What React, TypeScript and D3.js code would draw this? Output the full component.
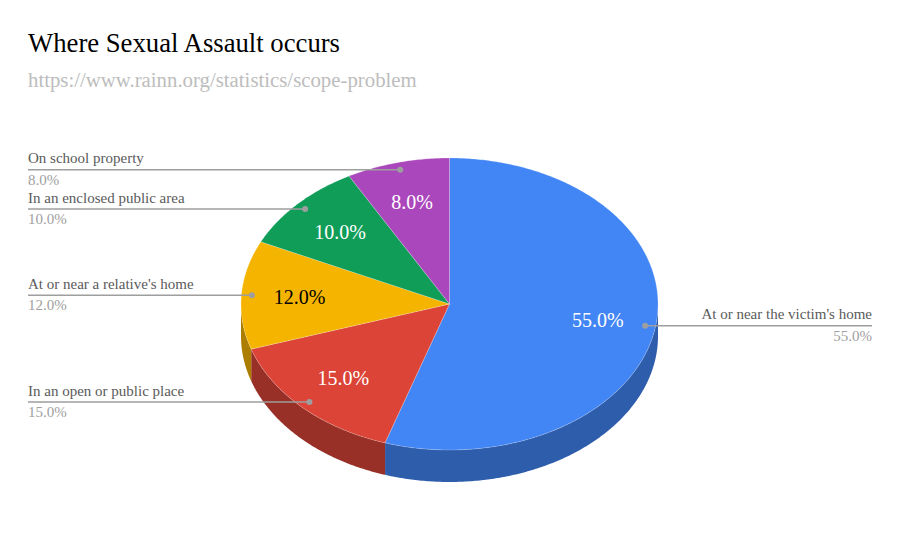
import React from "react";
import * as d3 from "d3";

const title = "Where Sexual Assault occurs";
const subtitle = "https://www.rainn.org/statistics/scope-problem";
const categories = [
  "At or near the victim's home",
  "In an open or public place",
  "At or near a relative's home",
  "In an enclosed public area",
  "On school property",
];
const values = [55, 15, 12, 10, 8];
const colors = ["#4285f4", "#db4437", "#f4b400", "#0f9d58", "#ab47bc"];

const W = 900;
const H = 557;
const CX = 449.5;
const CY = 304;
const RX = 208.5;
const RY = 146;
const DEPTH = 32;
const FONT = "'Liberation Serif', 'Times New Roman', serif";

const px = (a: number, k = 1) => CX + RX * k * Math.sin(a);
const py = (a: number, k = 1) => CY - RY * k * Math.cos(a);

function samples(a0: number, a1: number) {
  const n = Math.max(2, Math.ceil(Math.abs(a1 - a0) / 0.01));
  return d3.range(n + 1).map((i) => a0 + ((a1 - a0) * i) / n);
}

export default function App() {
  const total = d3.sum(values);
  const pie = d3
    .pie<number>()
    .sort(null)
    .startAngle(0)
    .endAngle(2 * Math.PI)(values);
  const fmt = (v: number) => d3.format(".1f")((v / total) * 100) + "%";

  const line = d3.line<[number, number]>();

  const frontStart = Math.PI / 2;
  const frontEnd = (3 * Math.PI) / 2;

  const sides = pie
    .map((d, i) => {
      const a0 = Math.max(d.startAngle, frontStart);
      const a1 = Math.min(d.endAngle, frontEnd);
      if (a1 <= a0) return null;
      const top = samples(a0, a1).map((a) => [px(a), py(a)] as [number, number]);
      const bot = samples(a1, a0).map((a) => [px(a), py(a) + DEPTH] as [number, number]);
      return { i, d: line([...top, ...bot]) + "Z" };
    })
    .filter(Boolean) as { i: number; d: string }[];

  const tops = pie.map((d, i) => {
    const pts = [[CX, CY] as [number, number], ...samples(d.startAngle, d.endAngle).map((a) => [px(a), py(a)] as [number, number])];
    return { i, d: line(pts) + "Z" };
  });

  return (
    <svg
      width={W}
      height={H}
      style={{ position: "absolute", left: 0, top: 0, background: "#fff" }}
      fontFamily={FONT}
    >
      <rect width={W} height={H} fill="#fff" />
      <text x={28} y={52} fontSize={26.7} fill="#000">{title}</text>
      <text x={28} y={87} fontSize={20.8} fill="#bdbdbd">{subtitle}</text>

      {sides.map((s) => (
        <path key={"s" + s.i} d={s.d} fill={d3.color(colors[s.i])!.darker(1).formatHex()} />
      ))}
      {tops.map((t) => (
        <path key={"t" + t.i} d={t.d} fill={colors[t.i]} stroke="#fff" strokeOpacity={0.35} strokeWidth={0.6} strokeLinejoin="round" />
      ))}

      {pie.map((d, i) => {
        const m = (d.startAngle + d.endAngle) / 2;
        const dark = d3.lab(colors[i]).l > 70;
        return (
          <text
            key={"l" + i}
            x={px(m, 0.72)}
            y={py(m, 0.72)}
            dy="0.35em"
            textAnchor="middle"
            fontSize={20}
            fill={dark ? "#000" : "#fff"}
          >
            {fmt(d.value)}
          </text>
        );
      })}

      {pie.map((d, i) => {
        const m = (d.startAngle + d.endAngle) / 2;
        const dx = px(m, 0.95);
        const dy = py(m, 0.95);
        const right = dx > CX;
        const x2 = right ? 872 : 28;
        return (
          <g key={"c" + i}>
            <line x1={dx} y1={dy} x2={x2} y2={dy} stroke="#9e9e9e" strokeWidth={1.5} />
            <circle cx={dx} cy={dy} r={3} fill="#9e9e9e" />
            <text x={x2} y={dy - 6.5} textAnchor={right ? "end" : "start"} fontSize={15} fill="#5a5a5a">
              {categories[i]}
            </text>
            <text x={x2} y={dy + 15} textAnchor={right ? "end" : "start"} fontSize={15} fill="#a0a0a0">
              {fmt(d.value)}
            </text>
          </g>
        );
      })}
    </svg>
  );
}
